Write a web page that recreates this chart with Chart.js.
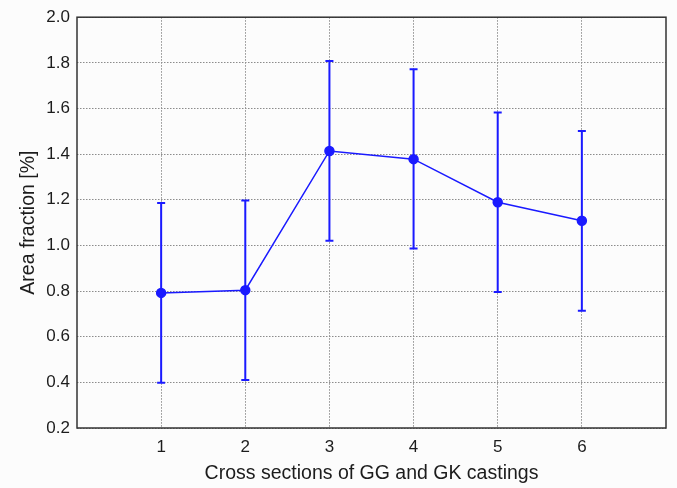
<!DOCTYPE html>
<html>
<head>
<meta charset="utf-8">
<script src="https://cdn.jsdelivr.net/npm/chart.js@4/dist/chart.umd.min.js"></script>
<style>
  html, body { margin: 0; padding: 0; background: #fcfcfc; }
  #wrap { width: 677px; height: 488px; }
</style>
</head>
<body>
<div id="wrap"><canvas id="chartInfo" width="677" height="488"></canvas></div>
<script>
// data
var sections = [1, 2, 3, 4, 5, 6]
var areaMean = [0.792, 0.804, 1.414, 1.378, 1.189, 1.108]
var areaLow = [0.398, 0.41, 1.021, 0.987, 0.796, 0.714]
var areaHigh = [1.186, 1.197, 1.808, 1.772, 1.582, 1.501]
var yTicks = [0.2, 0.4, 0.6, 0.8, 1.0, 1.2, 1.4, 1.6, 1.8, 2.0]

var blue = '#1a1aff'
var textCol = '#1c1c1c'

var points = []
for (var i = 0; i < sections.length; i++) {
    points.push({ x: sections[i], y: areaMean[i] })
}

// draws whiskers and the frame round the plot
var errorBars = {
    id: 'errorBars',
    beforeDatasetsDraw: function (chart) {
        var ctx = chart.ctx
        var xs = chart.scales.x, ys = chart.scales.y
        ctx.save()
        ctx.strokeStyle = blue
        ctx.lineWidth = 2
        for (var i = 0; i < sections.length; i++) {
            var px = xs.getPixelForValue(sections[i])
            var top = ys.getPixelForValue(areaHigh[i])
            var bot = ys.getPixelForValue(areaLow[i])
            ctx.beginPath()
            ctx.moveTo(px, top); ctx.lineTo(px, bot)
            ctx.moveTo(px - 4, top); ctx.lineTo(px + 4, top)
            ctx.moveTo(px - 4, bot); ctx.lineTo(px + 4, bot)
            ctx.stroke()
        }
        ctx.restore()
    },
    afterDraw: function (chart) {
        var a = chart.chartArea
        var ctx = chart.ctx
        ctx.save()
        ctx.strokeStyle = '#333333'
        ctx.lineWidth = 1.5
        ctx.strokeRect(a.left, a.top, a.right - a.left, a.bottom - a.top)
        ctx.restore()
    }
}

var canvas = document.getElementById('chartInfo')
var myChart = new Chart(canvas.getContext('2d'), {
    type: 'line',
    data: {
        datasets: [{
            data: points,
            borderColor: blue,
            backgroundColor: blue,
            borderWidth: 1.5,
            pointRadius: 4.5,
            pointHoverRadius: 4.5,
            tension: 0
        }]
    },
    plugins: [errorBars],
    options: {
        responsive: false,
        animation: false,
        layout: { padding: { top: 14, right: 11, left: 0, bottom: 0 } },
        plugins: { legend: { display: false }, tooltip: { enabled: false } },
        scales: {
            x: {
                type: 'linear',
                min: 0,
                max: 7,
                afterBuildTicks: function (axis) {
                    axis.ticks = sections.map(function (v) { return { value: v } })
                },
                afterFit: function (axis) { axis.height = 60 },
                grid: { color: '#8c8c8c', drawTicks: false },
                border: { display: false, dash: [1.5, 1.5] },
                ticks: {
                    padding: 9,
                    color: textCol,
                    font: { family: 'Liberation Sans', size: 17 }
                },
                title: {
                    display: true,
                    text: 'Cross sections of GG and GK castings',
                    color: textCol,
                    font: { family: 'Liberation Sans', size: 19.5 },
                    padding: { top: 4, bottom: 3 }
                }
            },
            y: {
                min: 0.2,
                max: 2.0,
                afterBuildTicks: function (axis) {
                    axis.ticks = yTicks.map(function (v) { return { value: v } })
                },
                afterFit: function (axis) { axis.width = 77 },
                grid: { color: '#8c8c8c', drawTicks: false },
                border: { display: false, dash: [1.5, 1.5] },
                ticks: {
                    padding: 7,
                    color: textCol,
                    font: { family: 'Liberation Sans', size: 17 },
                    callback: function (v) { return v.toFixed(1) }
                },
                title: {
                    display: true,
                    text: 'Area fraction [%]',
                    color: textCol,
                    font: { family: 'Liberation Sans', size: 19.5 },
                    padding: { top: 17, bottom: 6 }
                }
            }
        }
    }
})
</script>
</body>
</html>
